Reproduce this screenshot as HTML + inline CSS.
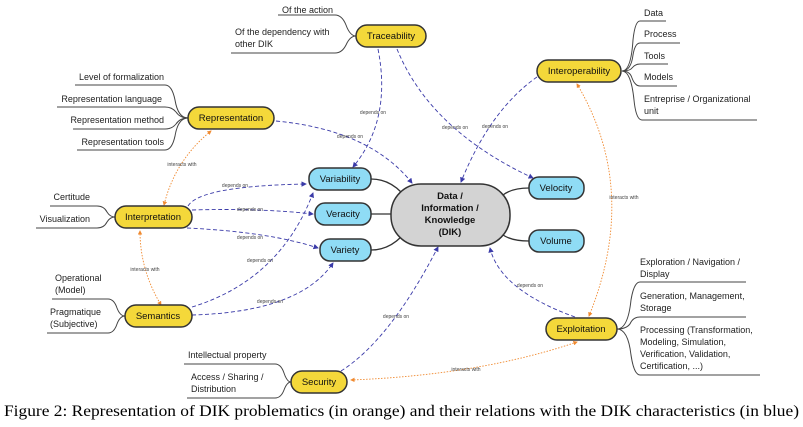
<!DOCTYPE html>
<html><head><meta charset="utf-8"><style>
body{margin:0;background:#fff;width:803px;height:427px;overflow:hidden}
svg{display:block}
.t{font-family:"Liberation Sans",sans-serif;font-size:9px;fill:#222}
.n{font-family:"Liberation Sans",sans-serif;font-size:9.5px;fill:#111;text-anchor:middle}
.s{font-family:"Liberation Sans",sans-serif;font-size:5px;fill:#444;text-anchor:middle}
.y{fill:#f4d83a;stroke:#333;stroke-width:1.5}
.b{fill:#8fdcf5;stroke:#333;stroke-width:1.5}
.l{fill:none;stroke:#444;stroke-width:1}
.c{fill:none;stroke:#333;stroke-width:1.3}
.d{fill:none;stroke:#3a3aa8;stroke-width:0.9;stroke-dasharray:4 2.5;marker-end:url(#ab)}
.o{fill:none;stroke:#f08a30;stroke-width:0.9;stroke-dasharray:1.5 1.5;marker-end:url(#ao);marker-start:url(#aos)}
</style></head><body>
<svg width="803" height="427" viewBox="0 0 803 427">
<defs>
<marker id="ab" markerWidth="6" markerHeight="6" refX="5" refY="3" orient="auto"><path d="M0,0 L6,3 L0,6z" fill="#3a3aa8"/></marker>
<marker id="ao" markerWidth="5" markerHeight="5" refX="4" refY="2.5" orient="auto"><path d="M0,0 L5,2.5 L0,5z" fill="#f08a30"/></marker>
<marker id="aos" markerWidth="5" markerHeight="5" refX="1" refY="2.5" orient="auto"><path d="M5,0 L0,2.5 L5,5z" fill="#f08a30"/></marker>
</defs>

<g class="l">
<path d="M278,15 H335 Q342,15 346,25 Q350,36 356,36"/>
<path d="M231,53 H335 Q342,53 346,45 Q350,36 356,36"/>
<path d="M75,85 H165 Q172,85 175,100 Q178,118 188,118"/>
<path d="M57,107 H165 Q172,107 176,112 Q180,118 188,118"/>
<path d="M73,129 H165 Q172,129 176,124 Q180,118 188,118"/>
<path d="M77,150 H165 Q172,150 175,136 Q178,118 188,118"/>
<path d="M50,206 H97 Q104,206 107,212 Q110,217 115,217"/>
<path d="M36,228 H97 Q104,228 107,222 Q110,217 115,217"/>
<path d="M52,299 H108 Q114,299 117,308 Q120,316 125,316"/>
<path d="M47,333 H108 Q114,333 117,324 Q120,316 125,316"/>
<path d="M184,364 H275 Q281,364 284,373 Q287,382 291,382"/>
<path d="M187,398 H275 Q281,398 284,390 Q287,382 291,382"/>
<path d="M666,21 H640 Q635,21 633,40 Q631,71 622,71"/>
<path d="M680,43 H640 Q635,43 633,55 Q631,71 622,71"/>
<path d="M668,64 H640 Q635,64 632,68 Q630,71 622,71"/>
<path d="M677,86 H640 Q635,86 632,78 Q630,71 622,71"/>
<path d="M757,120 H642 Q636,120 634,100 Q631,71 622,71"/>
<path d="M746,282 H640 Q634,282 631,300 Q628,329 617,329"/>
<path d="M746,317 H640 Q634,317 631,322 Q628,329 617,329"/>
<path d="M760,375 H640 Q634,375 631,355 Q628,329 617,329"/>
</g>
<g class="t">
<text x="282" y="13">Of the action</text>
<text x="235" y="35">Of the dependency with</text><text x="235" y="47">other DIK</text>
<text x="164" y="80" text-anchor="end">Level of formalization</text>
<text x="162" y="102" text-anchor="end">Representation language</text>
<text x="164" y="123" text-anchor="end">Representation method</text>
<text x="164" y="145" text-anchor="end">Representation tools</text>
<text x="90" y="200" text-anchor="end">Certitude</text>
<text x="90" y="222" text-anchor="end">Visualization</text>
<text x="55" y="281">Operational</text><text x="55" y="293">(Model)</text>
<text x="50" y="315">Pragmatique</text><text x="50" y="327">(Subjective)</text>
<text x="188" y="358">Intellectual property</text>
<text x="191" y="380">Access / Sharing /</text><text x="191" y="392">Distribution</text>
<text x="644" y="16">Data</text>
<text x="644" y="37">Process</text>
<text x="644" y="59">Tools</text>
<text x="644" y="80">Models</text>
<text x="644" y="102">Entreprise / Organizational</text><text x="644" y="114">unit</text>
<text x="640" y="265">Exploration / Navigation /</text><text x="640" y="277">Display</text>
<text x="640" y="299">Generation, Management,</text><text x="640" y="311">Storage</text>
<text x="640" y="333">Processing (Transformation,</text><text x="640" y="345">Modeling, Simulation,</text><text x="640" y="357">Verification, Validation,</text><text x="640" y="369">Certification, ...)</text>
</g>

<g class="c">
<path d="M371,179 Q388,179 401,192"/>
<path d="M371,214 H391"/>
<path d="M371,250 Q388,250 401,237"/>
<path d="M529,188 Q512,188 503,195"/>
<path d="M529,241 Q512,241 503,235"/>
</g>

<path class="d" d="M378,49 Q392,120 353,167"/>
<path class="d" d="M397,49 Q430,130 533,178"/>
<path class="d" d="M276,121 Q370,130 412,183"/>
<path class="d" d="M537,77 Q490,110 461,182"/>
<path class="d" d="M188,206 Q200,186 306,184"/>
<path class="d" d="M192,210 Q260,208 313,214"/>
<path class="d" d="M187,228 Q270,232 318,248"/>
<path class="d" d="M192,307 Q280,280 313,193"/>
<path class="d" d="M192,315 Q300,312 333,263"/>
<path class="d" d="M341,371 Q390,340 438,247"/>
<path class="d" d="M575,317 Q500,290 490,248"/>
<g class="s">
<text x="373" y="114">depends on</text>
<text x="455" y="129">depends on</text>
<text x="350" y="138">depends on</text>
<text x="495" y="128">depends on</text>
<text x="235" y="187">depends on</text>
<text x="250" y="211">depends on</text>
<text x="250" y="239">depends on</text>
<text x="260" y="262">depends on</text>
<text x="270" y="303">depends on</text>
<text x="396" y="318">depends on</text>
<text x="530" y="287">depends on</text>
</g>

<path class="o" d="M211,131 Q175,160 164,205"/>
<path class="o" d="M140,231 Q140,270 161,305"/>
<path class="o" d="M577,84 Q640,190 589,316"/>
<path class="o" d="M351,380 Q480,375 577,342"/>
<g class="s">
<text x="182" y="166">interacts with</text>
<text x="145" y="271">interacts with</text>
<text x="624" y="199">interacts with</text>
<text x="466" y="371">interacts with</text>
</g>

<rect class="y" x="356" y="25" width="70" height="22" rx="11"/><text class="n" x="391" y="39">Traceability</text>
<rect class="y" x="188" y="107" width="86" height="22" rx="11"/><text class="n" x="231" y="121">Representation</text>
<rect class="y" x="537" y="60" width="84" height="22" rx="11"/><text class="n" x="579" y="74">Interoperability</text>
<rect class="y" x="115" y="206" width="77" height="22" rx="11"/><text class="n" x="153" y="220">Interpretation</text>
<rect class="y" x="125" y="305" width="67" height="22" rx="11"/><text class="n" x="158" y="319">Semantics</text>
<rect class="y" x="291" y="371" width="56" height="22" rx="11"/><text class="n" x="319" y="385">Security</text>
<rect class="y" x="546" y="318" width="71" height="22" rx="11"/><text class="n" x="581" y="332">Exploitation</text>
<rect class="b" x="309" y="168" width="62" height="22" rx="10"/><text class="n" x="340" y="182">Variability</text>
<rect class="b" x="315" y="203" width="56" height="22" rx="10"/><text class="n" x="343" y="217">Veracity</text>
<rect class="b" x="320" y="239" width="51" height="22" rx="10"/><text class="n" x="345" y="253">Variety</text>
<rect class="b" x="529" y="177" width="55" height="22" rx="10"/><text class="n" x="556" y="191">Velocity</text>
<rect class="b" x="529" y="230" width="55" height="22" rx="10"/><text class="n" x="556" y="244">Volume</text>
<rect x="391" y="184" width="119" height="62" rx="30" fill="#d3d3d3" stroke="#333" stroke-width="1.5"/>
<g class="n" style="font-weight:bold;font-size:9.5px">
<text x="450" y="199">Data /</text><text x="450" y="211">Information /</text><text x="450" y="223">Knowledge</text><text x="450" y="235">(DIK)</text>
</g>

<text x="4" y="416" textLength="795" lengthAdjust="spacingAndGlyphs" style="font-family:'Liberation Serif',serif;font-size:16px;fill:#000">Figure 2: Representation of DIK problematics (in orange) and their relations with the DIK characteristics (in blue)</text>
</svg>
</body></html>
